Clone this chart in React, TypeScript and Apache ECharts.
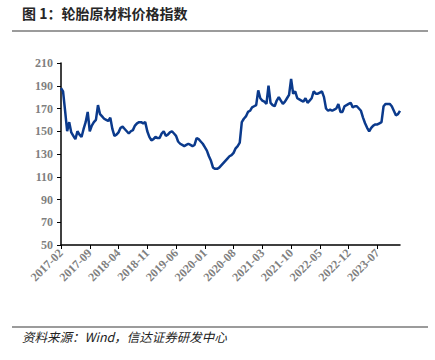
import React, { useEffect, useRef } from "react";
import * as echarts from "echarts";

const titleText = "图 1：轮胎原材料价格指数";
const sourceText = "资料来源：Wind，信达证券研发中心";

const startYear = 2017;
const startMonth = 2;
// semi-monthly observations, 2017-02 (first half) to 2023-12 (second half)
const indexValues = [
  188, 185, 168, 150, 158, 149, 146, 143, 150, 147,
  145, 152, 158, 167, 150, 155, 158, 160, 173, 165,
  163, 161, 160, 159, 162, 152, 146, 147, 149, 153,
  154, 152, 150, 148, 150, 151, 155, 157, 158, 158,
  157, 158, 150, 145, 142, 143, 145, 144, 144, 148,
  150, 146, 147, 149, 150, 148, 146, 141, 139, 138,
  137, 138, 139, 138, 137, 138, 144, 143, 141, 139,
  136, 133, 128, 124, 118, 117, 117, 118, 120, 122,
  124, 126, 128, 129, 131, 135, 137, 140, 158, 161,
  163, 167, 168, 171, 172, 173, 186, 179, 177, 176,
  174, 190, 175, 173, 172, 177, 180, 177, 174, 176,
  179, 182, 196, 183, 185, 179, 178, 177, 176, 179,
  175, 177, 179, 185, 183, 183, 184, 185, 180, 170,
  168, 169, 168, 169, 170, 174, 167, 167, 172, 173,
  174, 175, 171, 172, 172, 170, 168, 162, 157, 153,
  150, 153, 155, 156, 156, 157, 158, 172, 174, 174,
  174, 172, 168, 164, 165, 168,
];
const yTicks = [50, 70, 90, 110, 130, 150, 170, 190, 210];

const categories: string[] = indexValues.map((_, i) => {
  const m = Math.floor(i / 2);
  const total = startMonth - 1 + m;
  const y = startYear + Math.floor(total / 12);
  const mo = (total % 12) + 1;
  return `${y}-${String(mo).padStart(2, "0")}-${i % 2 === 0 ? "01" : "16"}`;
});

export default function App() {
  const ref = useRef<HTMLDivElement>(null);
  useEffect(() => {
    if (!ref.current) return;
    const chart = echarts.init(ref.current, null, { renderer: "svg" });
    const axisLabelStyle = {
      fontFamily: "Liberation Serif",
      fontWeight: "bold" as const,
      fontSize: 12,
      color: "#7f7f7f",
    };
    chart.setOption({
      animation: false,
      backgroundColor: "#ffffff",
      grid: { left: 61, right: 35, top: 63, bottom: 115, containLabel: false },
      graphic: [
        {
          type: "text",
          left: 22,
          top: 6,
          style: {
            text: titleText,
            fontFamily: "Noto Sans CJK SC",
            fontWeight: "bold",
            fontSize: 14,
            fill: "#262626",
          },
        },
        {
          type: "line",
          shape: { x1: 12, y1: 31, x2: 428, y2: 31 },
          style: { stroke: "#7a7a7a", lineWidth: 1.5 },
        },
        {
          type: "line",
          shape: { x1: 12, y1: 327, x2: 428, y2: 327 },
          style: { stroke: "#7a7a7a", lineWidth: 1.5 },
        },
        {
          type: "text",
          left: 22,
          top: 330,
          style: {
            text: sourceText,
            fontFamily: "Noto Sans CJK SC",
            fontStyle: "italic",
            fontSize: 12.5,
            fill: "#222222",
          },
        },
      ],
      xAxis: {
        type: "category",
        data: categories,
        boundaryGap: false,
        axisLine: { lineStyle: { color: "#000000", width: 1.5 } },
        axisTick: { show: true, interval: 13, length: 4, lineStyle: { color: "#000000" } },
        axisLabel: {
          ...axisLabelStyle,
          interval: 13,
          rotate: 45,
          margin: 6,
          formatter: (v: string) => v.slice(0, 7),
        },
        splitLine: { show: false },
      },
      yAxis: {
        type: "value",
        min: 50,
        max: 210,
        axisLine: { show: true, lineStyle: { color: "#000000", width: 1.5 } },
        axisTick: { show: true, length: 4, customValues: yTicks, lineStyle: { color: "#000000" } },
        axisLabel: { ...axisLabelStyle, margin: 8, customValues: yTicks },
        splitLine: { show: false },
      },
      series: [
        {
          type: "line",
          data: indexValues,
          showSymbol: false,
          symbol: "none",
          lineStyle: { color: "#0b3a8c", width: 2.5 },
        },
      ],
    });
    return () => chart.dispose();
  }, []);
  return (
    <div
      ref={ref}
      style={{ position: "fixed", left: 0, top: 0, width: 435, height: 360, background: "#fff" }}
    />
  );
}
